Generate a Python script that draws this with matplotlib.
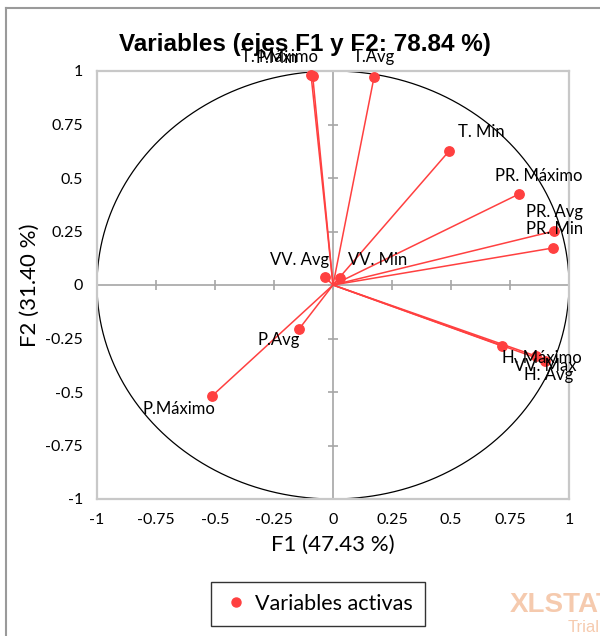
import numpy as np
import matplotlib
matplotlib.use("Agg")
import matplotlib.pyplot as plt
from matplotlib.lines import Line2D

# variable coordinates on F1 / F2 (read from the correlation circle)
names = ["T. Máximo", "P.Min", "T.Avg", "T. Min", "PR. Máximo", "PR. Avg", "PR. Min",
         "VV. Avg", "VV. Min", "P.Avg", "P.Máximo", "H. Máximo", "VV. Max", "H. Avg"]
f1 = [-0.093, -0.086, 0.174, 0.492, 0.788, 0.936, 0.932,
      -0.034, 0.030, -0.144, -0.513, 0.716, 0.860, 0.898]
f2 = [0.981, 0.976, 0.972, 0.626, 0.425, 0.252, 0.173,
      0.037, 0.033, -0.206, -0.519, -0.285, -0.332, -0.355]

ticks = [-1, -0.75, -0.5, -0.25, 0, 0.25, 0.5, 0.75, 1]
tick_labels = ["-1", "-0.75", "-0.5", "-0.25", "0", "0.25", "0.5", "0.75", "1"]

# label offsets in pixels (layout only)
label_offsets = {
    "T. Máximo": (-32, 18), "P.Min": (-36, 18), "T.Avg": (0, 20), "T. Min": (32, 19),
    "PR. Máximo": (20, 18), "PR. Avg": (1, 19), "PR. Min": (2, 19),
    "VV. Avg": (-25, 17), "VV. Min": (38, 18), "P.Avg": (-20, -11),
    "P.Máximo": (-33, -13), "H. Máximo": (40, -12), "VV. Max": (9, -10), "H. Avg": (4, -14),
}

red = "#FF4040"
grid_gray = "#A6A6A6"
lab_font = "Lato"

fig = plt.figure(figsize=(6.0, 6.36), dpi=100)
ax = fig.add_axes([97 / 600, 1 - 499 / 636, 472 / 600, 428 / 636])
ax.set_xlim(-1, 1)
ax.set_ylim(-1, 1)

for s in ax.spines.values():
    s.set_color("#C8C8C8")
    s.set_linewidth(1.6)

ax.set_xticks(ticks)
ax.set_yticks(ticks)
ax.set_xticklabels(tick_labels, family=lab_font, fontsize=11.5)
ax.set_yticklabels(tick_labels, family=lab_font, fontsize=11.5)
ax.tick_params(length=0, pad=10)

# zero axes with cross ticks
ax.axhline(0, color=grid_gray, lw=1.2, zorder=1)
ax.axvline(0, color=grid_gray, lw=1.2, zorder=1)
ax.plot(ticks, [0] * len(ticks), ls="none", marker="|", ms=7, mew=1.2, color=grid_gray, zorder=1)
ax.plot([0] * len(ticks), ticks, ls="none", marker="_", ms=7, mew=1.2, color=grid_gray, zorder=1)

# unit circle
t = np.linspace(0, 2 * np.pi, 400)
ax.plot(np.cos(t), np.sin(t), color="black", lw=0.9, zorder=2)

# vectors
for x, y in zip(f1, f2):
    ax.plot([0, x], [0, y], color=red, lw=1.1, zorder=3)
ax.scatter(f1, f2, s=46, color=red, zorder=4, clip_on=False)

for n, x, y in zip(names, f1, f2):
    dx, dy = label_offsets[n]
    ax.annotate(n, (x, y), xytext=(dx, dy), textcoords="offset pixels",
                ha="center", va="center", fontsize=12, family=lab_font,
                annotation_clip=False, zorder=5)

ax.set_xlabel("F1 (47.43 %)", family=lab_font, fontsize=16, labelpad=6)
ax.set_ylabel("F2 (31.40 %)", family=lab_font, fontsize=16, labelpad=4)
fig.text(305 / 600, 1 - 45 / 636, "Variables (ejes F1 y F2: 78.84 %)",
         ha="center", va="center", fontsize=17.5, fontweight="bold", family="Liberation Sans")

handle = Line2D([], [], ls="none", marker="o", ms=6.5, color=red)
leg = fig.legend([handle], ["Variables activas"], loc="center",
                 bbox_to_anchor=(318 / 600, 1 - 604 / 636), frameon=True, fancybox=False,
                 prop={"family": lab_font, "size": 15.5}, handletextpad=0.3, borderpad=0.55,
                 handlelength=1.2)
leg.get_frame().set_edgecolor("black")
leg.get_frame().set_linewidth(1.0)

# watermark
fig.text(510 / 600, 1 - 605 / 636, "XLSTAT", fontsize=20, fontweight="bold",
         family="Liberation Sans", color="#F2B48C", alpha=0.7, va="center", ha="left")
fig.text(568 / 600, 1 - 628 / 636, "Trial", fontsize=12,
         family="Liberation Sans", color="#F2B48C", alpha=0.7, va="center", ha="left")

# outer chart border
fig.add_artist(Line2D([6 / 600, 6 / 600], [0, 1 - 8 / 636], color="#9A9A9A", lw=1.5))
fig.add_artist(Line2D([6 / 600, 1], [1 - 8 / 636, 1 - 8 / 636], color="#9A9A9A", lw=1.5))

fig.savefig("out.png", dpi=100)
